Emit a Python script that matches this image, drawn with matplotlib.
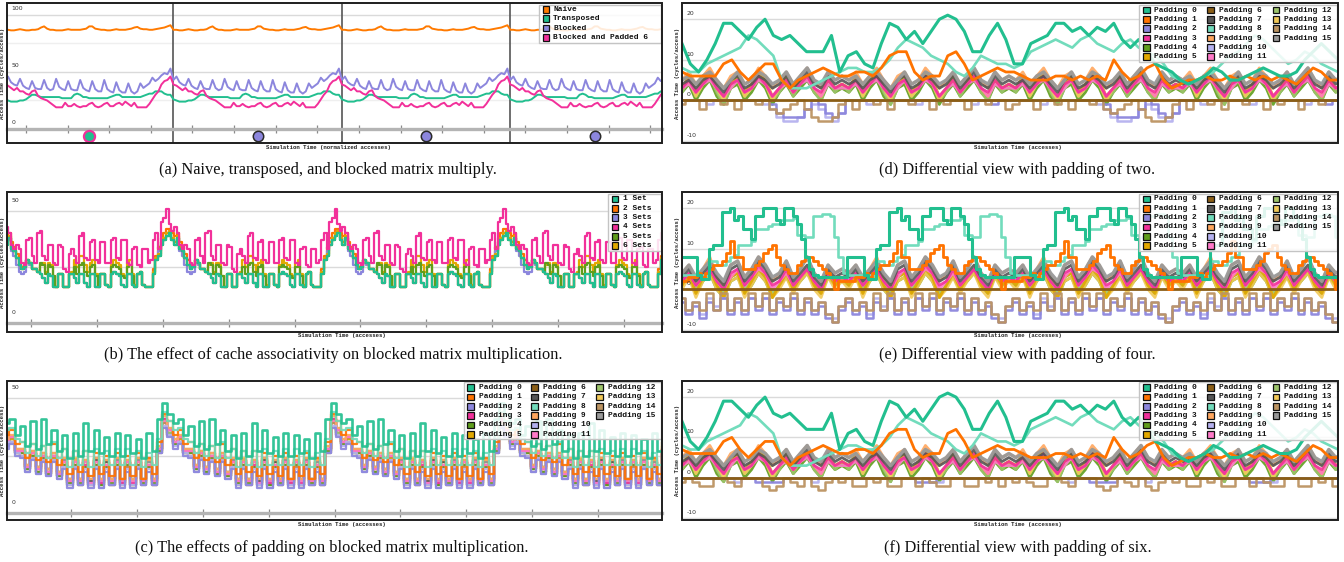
import numpy as np
import matplotlib
matplotlib.use("Agg")
import matplotlib.pyplot as plt
from matplotlib.patches import Rectangle

# ---------------------------------------------------------------- data
# (a) one period of each series (period repeats 4x in the chart)
labels_a = ["Naive", "Transposed", "Blocked", "Blocked and Padded 6"]
naive_a = [87, 87, 86.5, 86.5, 87, 87.5, 87, 86.5, 86.5, 87, 87, 87.5, 89, 90, 88, 87, 87, 86.5, 86.5, 86.5,
           87, 87.5, 87, 87, 87, 87, 87.5, 88, 90, 90, 88, 87.5, 87, 87, 86.5, 86.5, 87, 87.5, 87, 87,
           87, 87.5, 88, 89, 89.5, 88, 87.5, 87.5, 87, 87, 87.5, 88, 88.5, 89, 90, 91]
transposed_a = [26, 25, 24, 24, 24, 25, 25, 26, 28, 30, 30, 29, 28, 28, 28, 28, 28, 28, 28, 27,
                27, 27, 27, 30, 31, 30, 28, 28, 27, 27, 27, 27, 27, 27, 27, 28, 29, 30, 30, 28,
                28, 28, 28, 28, 28, 28, 29, 30, 31, 31, 33, 33, 33, 31, 30, 30]
blocked_a = [43, 46, 41, 39, 38, 44, 38, 36, 35, 42, 36, 35, 35, 43, 36, 34, 35, 44, 37, 35,
             34, 42, 35, 34, 34, 43, 36, 34, 33, 42, 35, 33, 33, 43, 35, 33, 32, 41, 34, 32,
             32, 40, 33, 31, 33, 40, 36, 38, 40, 45, 42, 44, 47, 49, 48, 53]
padded_a = [39, 38, 36, 34, 36, 33, 33, 31, 30, 33, 34, 29, 27, 26, 25, 23, 21, 19, 19, 19,
            23, 20, 20, 22, 20, 19, 20, 20, 22, 23, 20, 19, 20, 22, 23, 20, 20, 22, 23, 21,
            24, 22, 20, 23, 19, 19, 19, 19, 22, 26, 30, 33, 39, 42, 43, 46]
periods_a = 4
marker_x_a = [0.5, 1.5, 2.5, 3.5]
marker_y_a = [-6, -6, -6, -6]
ticks_a = [0.125 + 0.247 * k for k in range(16)]

# (b) one period of each series (64 samples / period)
labels_b = ["1 Set", "2 Sets", "3 Sets", "4 Sets", "5 Sets", "6 Sets"]
set1_b = [40, 37, 35, 38, 33, 32, 29, 26, 24, 25, 28, 27, 24, 24, 23, 22, 20, 18, 22, 21,
          16, 16, 22, 22, 16, 16, 22, 22, 20, 18, 22, 22, 18, 16, 22, 22, 16, 16, 22, 22,
          17, 16, 22, 23, 22, 21, 17, 16, 22, 22, 17, 16, 22, 23, 17, 16, 16, 16, 22, 28,
          30, 35, 37, 39]
set2_b = [42, 40, 39, 40, 36, 34, 31, 28, 25, 26, 28, 27, 24, 24, 23, 22, 20, 18, 22, 21,
          16, 16, 22, 22, 16, 16, 22, 22, 20, 18, 22, 22, 18, 16, 22, 22, 16, 16, 22, 22,
          17, 16, 22, 23, 22, 21, 17, 16, 22, 22, 17, 16, 22, 23, 17, 16, 16, 16, 24, 30,
          34, 38, 40, 42]
set3_b = [41, 38, 36, 37, 32, 30, 26, 23, 22, 23, 27, 26, 24, 24, 23, 22, 20, 18, 22, 21,
          16, 16, 22, 22, 16, 16, 22, 22, 20, 18, 22, 22, 18, 16, 22, 22, 16, 16, 22, 22,
          17, 16, 22, 23, 22, 21, 17, 16, 22, 22, 17, 16, 22, 23, 17, 16, 16, 16, 23, 29,
          32, 36, 38, 40]
set4_b = [44, 41, 43, 40, 35, 33, 35, 33, 27, 26, 37, 38, 30, 27, 40, 41, 30, 28, 35, 35,
          27, 26, 35, 34, 24, 23, 31, 33, 30, 27, 39, 40, 29, 28, 36, 37, 28, 27, 36, 36,
          27, 27, 37, 38, 29, 28, 37, 37, 27, 26, 33, 34, 26, 25, 33, 33, 27, 28, 37, 40,
          33, 45, 47, 51]
set5_b = [40, 37, 35, 38, 33, 32, 29, 26, 24, 25, 28, 27, 24, 24, 23, 27, 26, 22, 26, 25,
          21, 16, 22, 22, 16, 16, 22, 22, 25, 22, 26, 27, 23, 21, 25, 26, 21, 16, 22, 22,
          17, 16, 25, 26, 25, 24, 21, 20, 25, 26, 21, 16, 22, 23, 17, 16, 16, 16, 22, 28,
          30, 35, 37, 39]
set6_b = [41, 38, 36, 39, 34, 32, 29, 26, 24, 25, 28, 27, 24, 24, 23, 26, 27, 23, 27, 26,
          21, 16, 22, 22, 16, 16, 22, 23, 28, 25, 30, 30, 26, 23, 27, 28, 22, 17, 22, 22,
          17, 16, 26, 28, 27, 26, 22, 21, 27, 28, 22, 17, 22, 23, 17, 16, 16, 16, 23, 29,
          31, 36, 38, 40]
periods_b = 4
ticks_b = [0.178 + 0.3905 * k for k in range(10)]

# (c) one period per series (32 samples / period)
labels_pad = ["Padding %d" % k for k in range(16)]
pad_c = [
    [43, 39, 41, 34, 38, 29, 40, 28, 41, 30, 36, 27, 34, 24, 35, 25, 39, 27, 36, 26, 33, 25, 35, 25, 34, 26, 32, 24, 35, 27, 41, 48],
    [40, 34, 36, 30, 31, 24, 30, 23, 29, 22, 30, 21, 28, 17, 27, 18, 27, 16, 26, 17, 25, 16, 26, 15, 25, 16, 26, 15, 24, 17, 31, 43],
    [33, 28, 30, 25, 24, 18, 23, 17, 22, 16, 22, 15, 19, 11, 19, 12, 18, 11, 19, 11, 18, 12, 19, 11, 18, 11, 19, 12, 18, 12, 26, 37],
    [36, 31, 33, 27, 27, 20, 26, 19, 25, 18, 25, 17, 22, 14, 22, 14, 21, 13, 22, 13, 21, 14, 22, 13, 22, 13, 22, 14, 21, 14, 28, 41],
    [35, 30, 32, 26, 26, 19, 25, 18, 24, 17, 24, 16, 21, 13, 21, 13, 20, 13, 21, 12, 20, 13, 21, 13, 21, 12, 21, 13, 20, 13, 27, 40],
    [36, 31, 32, 27, 27, 20, 26, 19, 25, 18, 24, 17, 22, 14, 22, 14, 22, 14, 23, 14, 22, 14, 23, 14, 22, 14, 22, 14, 21, 14, 28, 40],
    [34, 30, 31, 26, 25, 19, 24, 18, 23, 17, 23, 16, 21, 12, 20, 12, 20, 12, 21, 12, 20, 12, 21, 12, 20, 12, 20, 12, 20, 12, 26, 39],
    [36, 31, 33, 27, 27, 20, 26, 20, 25, 19, 25, 18, 23, 15, 23, 15, 22, 14, 23, 14, 22, 15, 23, 14, 22, 15, 23, 15, 22, 15, 28, 41],
    [40, 36, 37, 32, 31, 26, 30, 25, 29, 24, 31, 24, 28, 20, 27, 21, 27, 20, 28, 21, 27, 21, 28, 21, 28, 21, 27, 20, 26, 21, 32, 44],
    [37, 32, 34, 28, 28, 21, 27, 20, 26, 19, 26, 18, 24, 15, 23, 15, 23, 15, 24, 15, 23, 15, 24, 15, 23, 15, 24, 15, 23, 15, 29, 42],
    [34, 29, 31, 26, 25, 18, 24, 17, 23, 16, 23, 15, 20, 12, 20, 12, 19, 12, 20, 11, 19, 12, 20, 12, 19, 12, 20, 12, 19, 12, 26, 38],
    [36, 31, 33, 27, 27, 20, 26, 19, 25, 18, 25, 17, 22, 14, 22, 14, 22, 13, 22, 14, 21, 14, 22, 14, 22, 14, 22, 14, 21, 14, 28, 40],
    [35, 31, 32, 27, 27, 21, 26, 20, 25, 19, 26, 18, 23, 15, 23, 15, 22, 15, 23, 15, 22, 15, 23, 15, 22, 15, 22, 15, 22, 15, 28, 40],
    [37, 32, 33, 28, 28, 21, 27, 20, 26, 19, 25, 18, 23, 15, 24, 15, 23, 14, 24, 15, 23, 15, 24, 15, 23, 15, 24, 15, 23, 15, 29, 41],
    [34, 30, 31, 26, 26, 19, 25, 18, 24, 17, 23, 16, 21, 13, 21, 12, 20, 12, 21, 13, 20, 12, 21, 12, 20, 12, 21, 13, 20, 12, 27, 39],
    [36, 31, 33, 28, 28, 21, 27, 20, 26, 19, 25, 18, 23, 15, 23, 15, 23, 15, 24, 15, 23, 15, 23, 15, 23, 15, 23, 15, 22, 15, 28, 41],
]
periods_c = 4
ticks_c = [0.415 + 0.3905 * k for k in range(9)]

# (d)/(f) highlighted series across the full width (80 samples)
pad0_d = [14, 9, 7, 10, 14, 19, 19, 17, 15, 18, 20, 16, 15, 16, 14, 12, 12, 12, 16, 7,
          11, 12, 9, 8, 14, 19, 18, 15, 17, 14, 17, 20, 21, 20, 17, 12, 12, 16, 19, 15,
          9, 9, 14, 15, 16, 19, 19, 17, 18, 16, 18, 17, 19, 15, 13, 15, 12, 9, 8, 7,
          5, 4, 5, 6, 8, 7, 5, 5, 6, 7, 8, 7, 6, 6, 7, 10, 12, 14, 12, 10]
pad8_d = [8, 7, 7, 9, 10, 11, 12, 13, 16, 15, 13, 11, 5, 3, 3, 3, 4, 5, 6, 7,
          8, 8, 7, 7, 8, 10, 13, 15, 14, 13, 11, 10, 9, 7, 6, 8, 11, 10, 9, 9,
          8, 9, 12, 13, 14, 15, 14, 13, 15, 16, 14, 13, 12, 14, 15, 13, 12, 11, 9, 6,
          5, 4, 5, 6, 7, 9, 11, 12, 14, 16, 15, 13, 11, 9, 10, 12, 11, 9, 8, 7]
pad1_d = [7, 6, 6, 6, 6, 9, 10, 7, 5, 7, 9, 9, 5, 3, 5, 6, 7, 8, 7, 6,
          6, 7, 7, 6, 8, 11, 12, 12, 7, 5, 6, 6, 11, 12, 9, 5, 6, 7, 8, 7,
          7, 6, 5, 5, 5, 6, 6, 5, 6, 5, 6, 5, 10, 7, 5, 6, 8, 9, 5, 3,
          4, 5, 5, 6, 5, 5, 6, 5, 6, 5, 6, 5, 6, 5, 4, 6, 8, 7, 5, 5]
# (d)/(f) clutter, one period (24 samples)
clutter_d = {
    3: [3, 5, 2, 4, 6, 3, 1, 4, 5, 2, 3, 6, 4, 1, 3, 5, 2, 4, 6, 3, 2, 5, 3, 4],
    4: [2, 4, 0, 3, 5, 1, -1, 3, 4, 0, 2, 5, 3, -1, 2, 4, 1, 3, 5, 2, 0, 4, 2, 3],
    5: [3, 6, 2, 5, 7, 3, 1, 4, 6, 2, 4, 7, 5, 1, 3, 6, 2, 5, 6, 3, 1, 5, 3, 4],
    7: [4, 5, 3, 5, 6, 4, 2, 5, 6, 3, 4, 6, 5, 3, 4, 6, 3, 5, 7, 4, 3, 6, 4, 5],
    9: [5, 7, 4, 6, 8, 5, 3, 6, 7, 4, 5, 8, 6, 3, 5, 7, 4, 6, 8, 5, 3, 7, 5, 6],
    11: [3, 4, 2, 4, 5, 3, 1, 3, 5, 2, 3, 5, 4, 1, 3, 4, 2, 4, 5, 3, 1, 4, 3, 3],
    12: [2, 5, 1, 4, 6, 2, -1, 3, 5, 1, 3, 6, 4, 0, 2, 5, 1, 4, 6, 2, 0, 5, 2, 4],
    13: [3, 5, 1, 4, 6, 3, 0, 4, 5, 1, 3, 6, 4, 0, 3, 5, 2, 4, 6, 3, 1, 5, 3, 4],
    15: [5, 6, 4, 6, 7, 5, 3, 5, 7, 4, 5, 7, 6, 4, 5, 7, 4, 6, 8, 5, 4, 7, 5, 6],
}
# low series, two periods (48 samples)
low_d = {
    2: [0, 0, 0, 0, 0, 0, 0, 0, 0, 0, 0, 0, 0, -1, -3, -4, -4, -4, -2, 0, -1, -3, -4, -3,
        0, 0, 0, 0, 0, 0, 0, 0, 0, 0, 0, 0, 0, 0, 0, 0, 0, 0, 0, 0, 0, -1, 0, 0],
    10: [0, 0, 0, 0, -1, 0, 0, 0, 0, 0, 0, 0, -1, -2, -4, -5, -5, -4, -2, -1, -2, -4, -5, -3,
         0, 0, 0, -1, 0, 0, 0, 0, 0, 0, -1, 0, 0, 0, 0, 0, 0, 0, -1, 0, 0, 0, 0, 0],
    14: [-1, 0, 0, -2, 0, 0, -1, 0, -2, 0, 0, -1, 0, -2, -3, -2, -1, 0, -2, -4, -5, -5, -4, -1,
         0, -2, 0, 0, -1, 0, -2, 0, 0, -1, 0, 0, -2, 0, -1, 0, 0, -2, 0, 0, -1, 0, 0, -2],
}
low_f = {
    2: [0, 0, 0, 0, 0, 0, 0, 0, 0, 0, 0, -1, -1, -1, -1, 0, 0, 0, 0, 0, 0, 0, 0, 0,
        0, 0, 0, 0, 0, 0, 0, 0, 0, 0, -1, -1, -1, 0, 0, 0, 0, 0, 0, 0, 0, 0, 0, 0],
    10: [0, 0, 0, 0, 0, 0, 0, 0, -1, 0, 0, 0, 0, 0, 0, 0, 0, 0, 0, -1, 0, 0, 0, 0,
         0, 0, 0, 0, 0, 0, 0, 0, 0, 0, 0, 0, -1, -1, 0, 0, 0, 0, 0, 0, 0, 0, 0, 0],
    14: [-1, 0, -1, -2, -2, 0, 0, -1, -2, 0, 0, 0, -2, -3, -2, 0, -1, -2, 0, -2, -3, -1, 0, -1,
         0, -2, -2, 0, -1, 0, -2, -2, 0, 0, -2, 0, -1, -2, -2, 0, 0, -2, -2, 0, -1, 0, -2, 0],
}
zero_x = [0, 4]
zero_y = [0, 0]

# (e) one period (40 samples) for the highlighted series
pad0_e = [8, 8, 8, 8, 3.5, 2.5, 2.5, 10, 11, 11, 19, 19, 20, 17, 18, 15, 15, 12.5, 18, 18,
          20, 20, 20, 17, 16, 20, 20, 18, 16, 12.5, 8, 5, 3.5, 3, 3, 3, 3, 3, 3, 3]
pad8_e = [3.5, 3.5, 3.5, 3.5, 3.5, 3.5, 3.5, 7, 7, 6, 6, 7, 8, 8.5, 11, 11, 11, 12, 15, 15,
          15, 15.5, 16, 16, 17, 17, 17, 17.5, 13.5, 13.5, 13, 13, 18, 18, 18.5, 18.5, 18, 13, 8, 4]
pad1_e = [2, 2, 3, 3, 4, 3, 4, 5, 6, 6, 7, 9, 12, 8, 8, 5, 5, 5, 6, 7,
          9, 10, 11, 8, 6, 5, 4, 4, 6, 7, 8, 8, 7, 6, 5, 4, 3, 0, 2, 2]
clutter_e = {
    3: [2, 4, 1, 3, 5, 2, 0, 4, 5, 1, 3, 6, 4, 1, 2, 5, 1, 3, 5, 2, 0, 4, 2, 3],
    4: [1, 3, -1, 2, 4, 0, -2, 2, 3, -1, 1, 4, 2, -2, 1, 3, 0, 2, 4, 1, -1, 3, 1, 2],
    5: [1, 4, -1, 3, 5, 1, -2, 3, 4, -1, 2, 5, 3, -2, 1, 4, 0, 3, 5, 1, -1, 4, 1, 3],
    7: [3, 5, 2, 4, 6, 3, 1, 5, 6, 2, 4, 7, 5, 2, 3, 6, 2, 4, 6, 3, 1, 5, 3, 4],
    9: [4, 6, 2, 5, 8, 3, 1, 6, 7, 3, 5, 8, 6, 2, 4, 7, 3, 5, 8, 4, 2, 6, 4, 5],
    11: [2, 4, 1, 3, 5, 2, 0, 3, 5, 1, 3, 5, 4, 0, 2, 4, 1, 3, 5, 2, 0, 4, 2, 3],
    12: [1, 4, 0, 3, 5, 1, -1, 3, 4, 0, 2, 5, 3, -1, 1, 4, 0, 3, 5, 1, -1, 4, 1, 3],
    13: [0, 3, -2, 2, 4, 0, -2, 2, 3, -2, 1, 4, 2, -2, 0, 3, -1, 2, 4, 0, -2, 3, 0, 2],
    15: [4, 6, 3, 5, 7, 4, 2, 6, 7, 3, 5, 8, 6, 3, 4, 7, 3, 5, 8, 4, 2, 6, 4, 5],
}
low_e = {
    2: [-3, -6, -4, -7, -3, -5, -2, -6, -3, -6, -2, -5, -2, -6, -3, -5, -2, -6, -3, -6, -4, -7, -8, -5],
    10: [-2, -5, -3, -6, -2, -4, -2, -5, -2, -5, -2, -4, -2, -5, -2, -4, -2, -5, -2, -5, -3, -6, -7, -4],
    14: [-2, -5, -3, -5, -1, -5, -1, -5, -2, -5, -1, -4, -1, -5, -2, -4, -1, -5, -2, -5, -3, -6, -8, -4],
}
periods_def = 4

COLORS = ['#22bf8f', '#ff7300', '#8c86dd', '#f2309a', '#5f9e1c', '#e2a800', '#8b5e16', '#555555',
          '#72dcbc', '#ffa65e', '#b5b1ef', '#ff79c8', '#9dc46b', '#f2c957', '#bc9462', '#999999']
COL_A = ['#ff7a00', '#22bf8f', '#8c86dd', '#f2309a']

# ---------------------------------------------------------------- layout
W, H = 1344, 562
fig = plt.figure(figsize=(W / 100, H / 100), dpi=100)
MONO = ['Liberation Mono', 'DejaVu Sans Mono']
SERIF = ['Liberation Serif', 'DejaVu Serif']

BOX = {
    'a': (7, 3, 662, 143), 'b': (7, 192, 662, 332), 'c': (7, 381, 662, 520),
    'd': (682, 3, 1338, 143), 'e': (682, 192, 1338, 332), 'f': (682, 381, 1338, 520),
}


def make_ax(key):
    x0, y0, x1, y1 = BOX[key]
    return fig.add_axes([x0 / W, 1 - y1 / H, (x1 - x0) / W, (y1 - y0) / H])


def tx(box, px):
    return (px - box[0]) / (box[2] - box[0])


def ty(box, py):
    return (box[3] - py) / (box[3] - box[1])


def style(ax, key, xlim, ylim, grid_major, grid_minor, ylabels, lab_off, band_ticks=None):
    ax.set_xlim(*xlim)
    ax.set_ylim(*ylim)
    for s in ax.spines.values():
        s.set_visible(False)
    ax.add_patch(Rectangle((0, 0), 1, 1, transform=ax.transAxes, fill=False, ec='#1e1e1e',
                           lw=1.4, zorder=40, clip_on=False))
    ax.set_yticks([])
    for g in grid_major:
        ax.axhline(g, color='#dadada', lw=1.0, zorder=0.5)
    for g in grid_minor:
        ax.axhline(g, color='#efefef', lw=1.0, zorder=0.5)
    for v in ylabels:
        ax.annotate(str(v), xy=(0, v), xycoords=('axes fraction', 'data'),
                    xytext=(3.2, lab_off * 0.72), textcoords='offset points',
                    fontsize=4.4, color='#333333', ha='left', va='center', zorder=5)
    if band_ticks is not None:
        sp = ax.spines['bottom']
        sp.set_visible(True)
        sp.set_position(('data', 0))
        sp.set_color('#b4b4b4')
        sp.set_linewidth(2.4)
        ax.set_xticks(band_ticks)
        ax.tick_params(axis='x', direction='inout', length=6, width=0.9, color='#8a8a8a',
                       labelbottom=False)
    else:
        ax.set_xticks([])
    box = BOX[key]
    ax.text(-4.0 / (box[2] - box[0]), 0.5, 'Access Time (cycles/access)', transform=ax.transAxes,
            rotation=90, fontsize=4.1, family=MONO, weight='bold', ha='center', va='center',
            color='#222222')


def legend(ax, key, labels, colors, lbox, rows, mark_x, text_x):
    box = BOX[key]
    wpx = box[2] - box[0]
    hpx = box[3] - box[1]
    x0, y0, x1, y1 = lbox
    ax.add_patch(Rectangle((tx(box, x0), ty(box, y1)), (x1 - x0) / wpx, (y1 - y0) / hpx,
                           transform=ax.transAxes, fc=(1, 1, 1, 0.86), ec='#c4c4c4', lw=1.0,
                           zorder=30, clip_on=False))
    s = 6.7
    n = len(rows)
    for k, (lab, col) in enumerate(zip(labels, colors)):
        c, r = divmod(k, n)
        mx, my = mark_x[c], rows[r]
        ax.add_patch(Rectangle((tx(box, mx - s / 2), ty(box, my + s / 2)), s / wpx, s / hpx,
                               transform=ax.transAxes, fc=col, ec='#111111', lw=0.9,
                               zorder=31, clip_on=False))
        ax.text(tx(box, text_x[c]), ty(box, my), lab, transform=ax.transAxes, fontsize=5.7,
                family=MONO, weight='bold', ha='left', va='center', color='#111111', zorder=32)


def tiled(vals, reps):
    y = np.tile(np.asarray(vals, float), reps)
    x = np.arange(len(y)) / len(vals)
    return x, y


def xlabel(key, text, cx, cy):
    fig.text(cx / W, 1 - cy / H, text, fontsize=4.1, family=MONO, weight='bold',
             ha='center', va='center', color='#222222')


def caption(text, cx, cy):
    fig.text(cx / W, 1 - cy / H, text, fontsize=11.8, family=SERIF, ha='center', va='center',
             color='#111111')


# ---------------------------------------------------------------- (a)
ax = make_ax('a')
style(ax, 'a', (0.012, 3.9), (-12.3, 110.5), [50, 100], [25, 75], [100, 50, 0], 6.5, ticks_a)
for k in (1, 2, 3):
    ax.axvline(k, color='#555555', lw=1.2, zorder=1)
for vals, col in zip([transposed_a, naive_a, blocked_a, padded_a], [COL_A[1], COL_A[0], COL_A[2], COL_A[3]]):
    x, y = tiled(vals, periods_a)
    ax.plot(x, y, color=col, lw=1.4, zorder=3)
ax.plot(marker_x_a[:1], marker_y_a[:1], 'o', ms=8, mfc=COL_A[1], mec=COL_A[3], mew=1.6,
        zorder=6, clip_on=False)
ax.plot(marker_x_a[1:], marker_y_a[1:], 'o', ms=7.5, mfc=COL_A[2], mec='#2a2a2a', mew=1.1,
        zorder=6, clip_on=False)
legend(ax, 'a', labels_a, COL_A, (539, 5, 661, 43), [9.3, 18.7, 28.0, 37.3], [546], [553])
xlabel('a', 'Simulation Time (normalized accesses)', 328, 147)
caption('(a) Naive, transposed, and blocked matrix multiply.', 328, 170)

# ---------------------------------------------------------------- (b)
ax = make_ax('b')
style(ax, 'b', (0.033, 3.92), (-4.0, 58.5), [25, 50], [], [50, 0], 10.5, ticks_b)
series_b = [set1_b, set2_b, set3_b, set4_b, set5_b, set6_b]
for idx in (1, 2, 5, 4, 0, 3):
    x, y = tiled(series_b[idx], periods_b)
    ax.plot(x, y, color=COLORS[idx], lw=1.6, drawstyle='steps-mid', zorder=3)
legend(ax, 'b', labels_b, COLORS[:6], (608, 194, 661, 251),
       [199, 208.3, 217.7, 227, 236.3, 245.7], [615], [622.7])
xlabel('b', 'Simulation Time (accesses)', 342, 336)
caption('(b) The effect of cache associativity on blocked matrix multiplication.', 333, 355)

# ---------------------------------------------------------------- (c)
ax = make_ax('c')
style(ax, 'c', (0.033, 3.92), (-3.0, 57.4), [25, 50], [], [50, 0], 10.5, ticks_c)
order_c = [6, 14, 4, 12, 5, 13, 7, 15, 3, 11, 9, 10, 2, 1, 8, 0]
for idx in order_c:
    x, y = tiled(pad_c[idx], periods_c)
    lw = 1.9 if idx == 0 else 1.6
    ax.plot(x, y, color=COLORS[idx], lw=lw, drawstyle='steps-mid', zorder=3, alpha=0.92)
legend(ax, 'c', labels_pad, COLORS, (464, 382, 661, 439),
       [387.7, 397, 406.3, 415.7, 425, 434.3], [470.7, 534.7, 599.3], [479, 543.3, 608.3])
xlabel('c', 'Simulation Time (accesses)', 342, 524.5)
caption('(c) The effects of padding on blocked matrix multiplication.', 332, 548)


# ---------------------------------------------------------------- (d)-(f)
def diff_panel(key, p0, p8, p1, full_width, clutter, low, rows):
    ax = make_ax(key)
    style(ax, key, (0, 3.93), (-10.5, 24.0), [20, 10, -10], [], [20, 10, 0, -10], 5.5)
    for idx in (4, 12, 13, 5, 11, 3, 9, 7):
        x, y = tiled(clutter[idx], periods_def)
        ax.plot(x, y, color=COLORS[idx], lw=2.0, zorder=3, alpha=0.9)
    x, y = tiled(clutter[15], periods_def)
    ax.plot(x, y, color=COLORS[15], lw=2.5, zorder=3.2, alpha=0.95)
    for idx in (10, 2, 14):
        reps = int(np.ceil(periods_def * 24 / len(low[idx])))
        y = np.tile(np.asarray(low[idx], float), reps)
        x = np.arange(len(y)) / 24
        ax.plot(x, y, color=COLORS[idx], lw=1.8, drawstyle='steps-mid', zorder=3.3, alpha=0.95)
    ax.plot(zero_x, zero_y, color=COLORS[6], lw=2.0, zorder=3.5)
    ds = 'default' if full_width else 'steps-mid'
    for vals, idx, lw in ((p8, 8, 1.9), (p1, 1, 2.0), (p0, 0, 2.2)):
        if full_width:
            x = np.linspace(0, 3.93, len(vals))
            y = np.asarray(vals, float)
        else:
            x, y = tiled(vals, periods_def)
        ax.plot(x, y, color=COLORS[idx], lw=lw, drawstyle=ds, zorder=4)
    legend(ax, key, labels_pad, COLORS, (1139, rows[0] - 5.5, 1337, rows[-1] + 5.5),
           rows, [1146.7, 1210.7, 1276], [1154.3, 1219, 1283.7])


diff_panel('d', pad0_d, pad8_d, pad1_d, True, clutter_d, low_d, [10, 19.3, 28.7, 38, 47.3, 56.7])
xlabel('d', 'Simulation Time (accesses)', 1018, 147)
caption('(d) Differential view with padding of two.', 1017, 170)

diff_panel('e', pad0_e, pad8_e, pad1_e, False, clutter_e, low_e, [199, 208.3, 217.7, 227, 236.3, 245.7])
xlabel('e', 'Simulation Time (accesses)', 1018, 336)
caption('(e) Differential view with padding of four.', 1017, 355)

diff_panel('f', pad0_d, pad8_d, pad1_d, True, clutter_d, low_f, [387.7, 397, 406.3, 415.7, 425, 434.3])
xlabel('f', 'Simulation Time (accesses)', 1018, 524.5)
caption('(f) Differential view with padding of six.', 1018, 548)

fig.savefig('out.png', dpi=100)
